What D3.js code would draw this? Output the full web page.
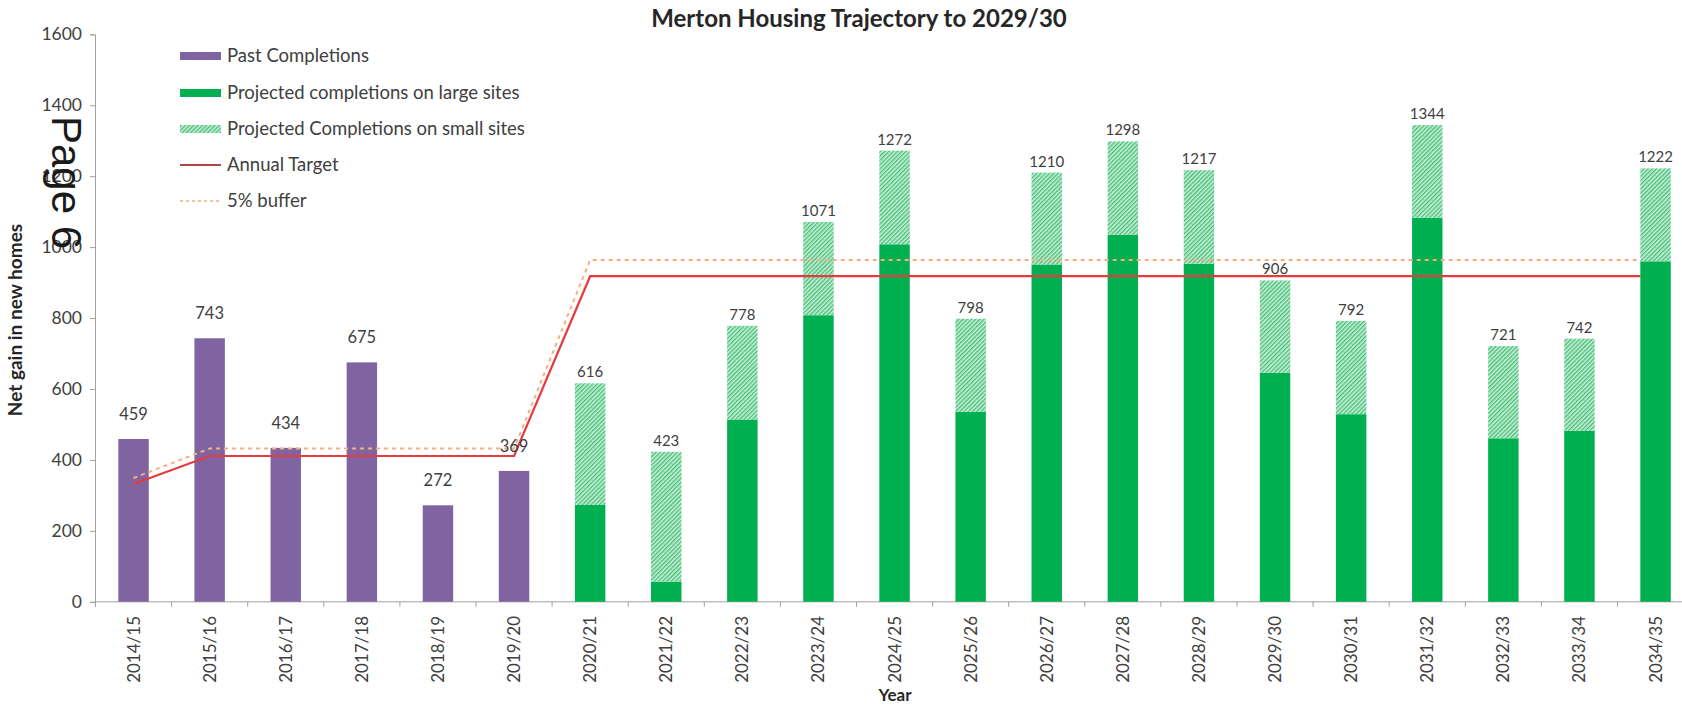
<!DOCTYPE html>
<html>
<head>
<meta charset="utf-8">
<script src="https://cdn.jsdelivr.net/npm/d3@7"></script>
<style>
  html, body { margin: 0; padding: 0; background: #fff; }
  svg { display: block; }
</style>
</head>
<body>
<svg id="chart" width="1682" height="706"></svg>
<script>
const categories = ["2014/15","2015/16","2016/17","2017/18","2018/19","2019/20","2020/21","2021/22","2022/23","2023/24","2024/25","2025/26","2026/27","2027/28","2028/29","2029/30","2030/31","2031/32","2032/33","2033/34","2034/35"];
const pastCompletions = [459, 743, 434, 675, 272, 369, null, null, null, null, null, null, null, null, null, null, null, null, null, null, null];
const largeSites = [null, null, null, null, null, null, 273, 57, 514, 808, 1008, 536, 951, 1035, 953, 646, 529, 1083, 461, 482, 960];
const smallSites = [null, null, null, null, null, null, 343, 366, 264, 263, 264, 262, 259, 263, 264, 260, 263, 261, 260, 260, 262];
const projectedLabels = [null, null, null, null, null, null, 616, 423, 778, 1071, 1272, 798, 1210, 1298, 1217, 906, 792, 1344, 721, 742, 1222];
const annualTarget = [332, 411, 411, 411, 411, 411, 918, 918, 918, 918, 918, 918, 918, 918, 918, 918, 918, 918, 918, 918, 918];
const bufferTarget = [349, 432, 432, 432, 432, 432, 964, 964, 964, 964, 964, 964, 964, 964, 964, 964, 964, 964, 964, 964, 964];
const yTicks = [0, 200, 400, 600, 800, 1000, 1200, 1400, 1600];
const legendItems = ["Past Completions", "Projected completions on large sites", "Projected Completions on small sites", "Annual Target", "5% buffer"];

const purple = "#8064A2", green = "#00B050", red = "#E53B3F", orange = "#F5B07F";
const font = "Lato, 'Open Sans', sans-serif";

const svg = d3.select("#chart");
svg.append("rect").attr("width", 1682).attr("height", 706).attr("fill", "#fff");

const defs = svg.append("defs");
const pat = defs.append("pattern").attr("id", "hatch").attr("patternUnits", "userSpaceOnUse")
  .attr("width", 3).attr("height", 3).attr("patternTransform", "rotate(45)");
pat.append("rect").attr("width", 3).attr("height", 3).attr("fill", "#CDEFD9");
pat.append("rect").attr("width", 1.4).attr("height", 3).attr("fill", "#45C179");

const x = d3.scaleBand().domain(categories).range([95.5, 1693.6]).paddingInner(0.6).paddingOuter(0.3);
const y = d3.scaleLinear().domain([0, 1600]).range([601.8, 34.3]);
const bw = x.bandwidth();
const step = x.step();

// Title
svg.append("text").attr("x", 859).attr("y", 27).attr("text-anchor", "middle")
  .attr("font-family", font).attr("font-weight", "bold").attr("font-size", 24).attr("fill", "#262626")
  .text("Merton Housing Trajectory to 2029/30");

// Y axis
const gy = svg.append("g").attr("transform", "translate(95,0)")
  .call(d3.axisLeft(y).tickValues(yTicks).tickSize(5).tickPadding(8).tickFormat(d3.format("d")));
gy.select(".domain").attr("stroke", "#A0A0A0");
gy.selectAll(".tick line").attr("stroke", "#A0A0A0");
gy.selectAll("text").attr("font-family", font).attr("font-size", 17.5).attr("fill", "#404040");

// X axis line and boundary ticks
svg.append("line").attr("x1", 95).attr("x2", 1682).attr("y1", y(0)).attr("y2", y(0)).attr("stroke", "#A0A0A0");
svg.append("g").selectAll("line").data(categories).join("line")
  .attr("x1", d => x(d) - (step - bw) / 2).attr("x2", d => x(d) - (step - bw) / 2)
  .attr("y1", y(0)).attr("y2", y(0) + 5).attr("stroke", "#A0A0A0");
svg.append("g").selectAll("text").data(categories).join("text")
  .attr("transform", d => `translate(${x(d) + bw / 2 + 6},616) rotate(-90)`)
  .attr("text-anchor", "end").attr("font-family", font).attr("font-size", 17).attr("fill", "#404040")
  .text(d => d);

// Axis titles
svg.append("text").attr("transform", "translate(22,320) rotate(-90)").attr("text-anchor", "middle")
  .attr("font-family", font).attr("font-weight", "bold").attr("font-size", 19).attr("fill", "#262626")
  .text("Net gain in new homes");
svg.append("text").attr("x", 895).attr("y", 701).attr("text-anchor", "middle")
  .attr("font-family", font).attr("font-weight", "bold").attr("font-size", 17).attr("fill", "#262626")
  .text("Year");

// Bars
const idx = categories.map((c, i) => i);
const past = idx.filter(i => pastCompletions[i] != null);
const proj = idx.filter(i => largeSites[i] != null);

svg.append("g").selectAll("rect").data(past).join("rect")
  .attr("x", i => x(categories[i])).attr("width", bw)
  .attr("y", i => y(pastCompletions[i])).attr("height", i => y(0) - y(pastCompletions[i]))
  .attr("fill", purple);
svg.append("g").selectAll("rect").data(proj).join("rect")
  .attr("x", i => x(categories[i])).attr("width", bw)
  .attr("y", i => y(largeSites[i])).attr("height", i => y(0) - y(largeSites[i]))
  .attr("fill", green);
svg.append("g").selectAll("rect").data(proj).join("rect")
  .attr("x", i => x(categories[i])).attr("width", bw)
  .attr("y", i => y(largeSites[i] + smallSites[i])).attr("height", i => y(largeSites[i]) - y(largeSites[i] + smallSites[i]))
  .attr("fill", "url(#hatch)");

// Lines
const lx = i => i === categories.length - 1 ? x(categories[i]) : x(categories[i]) + bw / 2;
const line = arr => d3.line().x(i => lx(i)).y(i => y(arr[i]))(idx);
svg.append("path").attr("d", line(bufferTarget)).attr("fill", "none").attr("stroke", orange)
  .attr("stroke-width", 2).attr("stroke-dasharray", "4,4");
svg.append("path").attr("d", line(annualTarget)).attr("fill", "none").attr("stroke", red)
  .attr("stroke-width", 2.2);

// Data labels
svg.append("g").selectAll("text").data(past).join("text")
  .attr("x", i => x(categories[i]) + bw / 2).attr("y", i => y(pastCompletions[i]) - 19)
  .attr("text-anchor", "middle").attr("font-family", font).attr("font-size", 16.5).attr("fill", "#404040")
  .text(i => pastCompletions[i]);
svg.append("g").selectAll("text").data(proj).join("text")
  .attr("x", i => x(categories[i]) + bw / 2).attr("y", i => y(largeSites[i] + smallSites[i]) - 6)
  .attr("text-anchor", "middle").attr("font-family", font).attr("font-size", 15).attr("fill", "#404040")
  .text(i => projectedLabels[i]);

// Legend
const lg = svg.append("g");
const rowY = [56, 93, 129, 165, 201];
legendItems.forEach((name, k) => {
  const yy = rowY[k];
  if (k === 0) lg.append("rect").attr("x", 180).attr("y", yy - 4).attr("width", 41).attr("height", 8).attr("fill", purple);
  if (k === 1) lg.append("rect").attr("x", 180).attr("y", yy - 4).attr("width", 41).attr("height", 8).attr("fill", green);
  if (k === 2) lg.append("rect").attr("x", 180).attr("y", yy - 4).attr("width", 41).attr("height", 8).attr("fill", "url(#hatch)");
  if (k === 3) lg.append("line").attr("x1", 180).attr("x2", 221).attr("y1", yy).attr("y2", yy).attr("stroke", "#B04848").attr("stroke-width", 2);
  if (k === 4) lg.append("line").attr("x1", 180).attr("x2", 221).attr("y1", yy).attr("y2", yy).attr("stroke", orange).attr("stroke-width", 1.5).attr("stroke-dasharray", "3,3");
  lg.append("text").attr("x", 227).attr("y", yy + 6).attr("font-family", font).attr("font-size", 18.5)
    .attr("fill", "#404040").text(name);
});

// Page overlay text
svg.append("text").attr("transform", "translate(52,116) rotate(90)")
  .attr("font-family", "'Liberation Sans', Arial, sans-serif").attr("font-size", 42).attr("fill", "#1a1a1a")
  .text("Page 6");
</script>
</body>
</html>
